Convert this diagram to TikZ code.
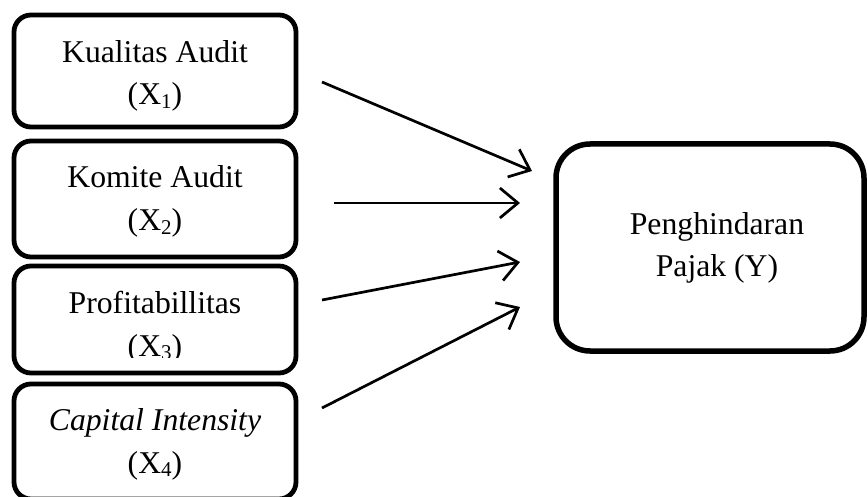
\documentclass[tikz,border=0pt]{standalone}
\usepackage{fontspec}
\setmainfont{Liberation Serif}
\usetikzlibrary{arrows.meta}
\newcommand{\subx}[1]{\raisebox{-0.12em}{\fontsize{21}{21}\selectfont #1}}
\tikzset{
  box/.style={draw=black, line width=4.8pt, rounded corners=17pt, minimum width=282pt, inner sep=0pt},
  bigbox/.style={draw=black, line width=5.5pt, rounded corners=34pt, inner sep=0pt},
  txt/.style={anchor=base, inner sep=0pt, font=\fontsize{31.7}{38}\selectfont},
  arr/.style={line width=2.7pt, -{Straight Barb[length=18pt,width=30pt]}}
}
\begin{document}
\begin{tikzpicture}[x=1pt,y=-1pt]
\clip (0,0) rectangle (868,497);
\fill[white] (0,0) rectangle (868,497);
% left boxes
\node[box, minimum height=112pt] (b1) at (155,71) {};
\node[box, minimum height=116pt] (b2) at (155,199) {};
\node[box, minimum height=107pt] (b3) at (155,319.5) {};
\node[box, minimum height=115pt] (b4) at (155,441.5) {};
% right box
\node[bigbox, minimum width=308pt, minimum height=207pt] (y) at (710,247.5) {};
% texts
\node[txt] (t1a) at (155,63) {Kualitas Audit};
\node[txt] (t1b) at (155,105) {(X\subx{1})};
\node[txt] (t2a) at (155,188) {Komite Audit};
\node[txt] (t2b) at (155,231) {(X\subx{2})};
\node[txt] (t3a) at (155,313) {Profitabillitas};
\begin{scope}
\clip (20,300) rectangle (290,357);
\node[txt] (t3b) at (155,356) {(X\subx{3})};
\end{scope}
\node[txt] (t4a) at (155,430) {\itshape Capital Intensity};
\node[txt] (t4b) at (155,473) {(X\subx{4})};
\node[txt] (ya) at (717,235) {Penghindaran};
\node[txt] (yb) at (717,277) {Pajak (Y)};
% arrow end points
\coordinate (s1) at (322,82);
\coordinate (e1) at (532,171);
\coordinate (s2) at (334,203);
\coordinate (e2) at (520,203);
\coordinate (s3) at (322,300);
\coordinate (e3) at (520,262);
\coordinate (s4) at (322,408);
\coordinate (e4) at (520,307);
\draw[arr] (s1) -- (e1);
\draw[arr] (s2) -- (e2);
\draw[arr] (s3) -- (e3);
\draw[arr] (s4) -- (e4);
\end{tikzpicture}
\end{document}
